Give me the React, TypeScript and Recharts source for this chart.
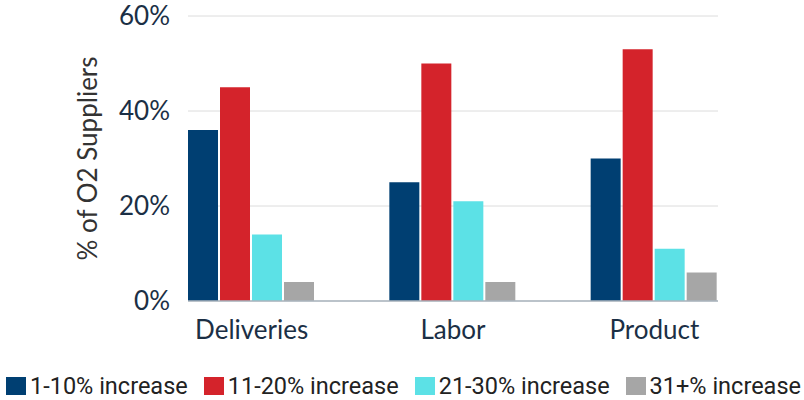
import React from 'react';
import { BarChart, Bar, XAxis, YAxis, CartesianGrid, Legend } from 'recharts';

const categories = ['Deliveries', 'Labor', 'Product'];
const s1 = [36, 25, 30];
const s2 = [45, 50, 53];
const s3 = [14, 21, 11];
const s4 = [4, 4, 6];
const seriesNames = ['1-10% increase', '11-20% increase', '21-30% increase', '31+% increase'];
const seriesColors = ['#003f72', '#d4232b', '#5ce1e6', '#a6a6a6'];
const yTicks = [0, 20, 40, 60];

const data = categories.map((c, i) => ({ name: c, a: s1[i], b: s2[i], c: s3[i], d: s4[i] }));
const keys = ['a', 'b', 'c', 'd'];

const LegendContent = (props: any) => {
  const { payload } = props;
  return (
    <div style={{ display: 'flex', alignItems: 'center', height: 40, paddingLeft: 6, paddingTop: 6, fontFamily: 'Roboto, sans-serif', fontSize: 23.5, color: '#222', whiteSpace: 'nowrap' }}>
      {(payload || []).map((p: any, i: number) => (
        <div key={i} style={{ display: 'flex', alignItems: 'center', marginRight: 16 }}>
          <span style={{ display: 'inline-block', width: 20, height: 18, background: p.color, marginRight: 4 }} />
          <span>{p.value}</span>
        </div>
      ))}
    </div>
  );
};

const YLabel = (props: any) => {
  const vb = props.viewBox || {};
  const cx = 87;
  const cy = vb.y + vb.height / 2;
  return (
    <text x={cx} y={cy} transform={`rotate(-90, ${cx}, ${cy})`} textAnchor="middle" dominantBaseline="central" fontFamily="Lato, sans-serif" fontSize={26} fill="#333">
      % of O2 Suppliers
    </text>
  );
};

export default function App() {
  return (
    <div style={{ position: 'absolute', left: 0, top: 0, width: 804, height: 400, background: '#fff' }}>
      <BarChart width={804} height={400} data={data} margin={{ top: 16, right: 86, left: 0, bottom: 0 }} barCategoryGap={37} barGap={2}>
        <CartesianGrid vertical={false} stroke="#dcdcdc" />
        <XAxis
          dataKey="name"
          padding={{ left: -37, right: -37 }}
          axisLine={{ stroke: '#aab4be', strokeWidth: 1.5 }}
          tickLine={false}
          tickSize={0}
          tickMargin={20}
          height={59}
          tick={{ fontFamily: 'Lato, sans-serif', fontSize: 26, fill: '#1b2f45' }}
        />
        <YAxis
          domain={[0, 60]}
          ticks={yTicks}
          width={188}
          axisLine={false}
          tickLine={false}
          tickSize={0}
          tickMargin={18}
          tickFormatter={(v: number) => `${v}%`}
          tick={{ fontFamily: 'Lato, sans-serif', fontSize: 26, fill: '#1b2f45' }}
          label={{ content: YLabel }}
        />
        <Legend verticalAlign="bottom" align="left" content={LegendContent} wrapperStyle={{ left: 0, width: 804, height: 40 }} />
        {keys.map((k, i) => (
          <Bar key={k} dataKey={k} name={seriesNames[i]} fill={seriesColors[i]} isAnimationActive={false} />
        ))}
      </BarChart>
    </div>
  );
}
